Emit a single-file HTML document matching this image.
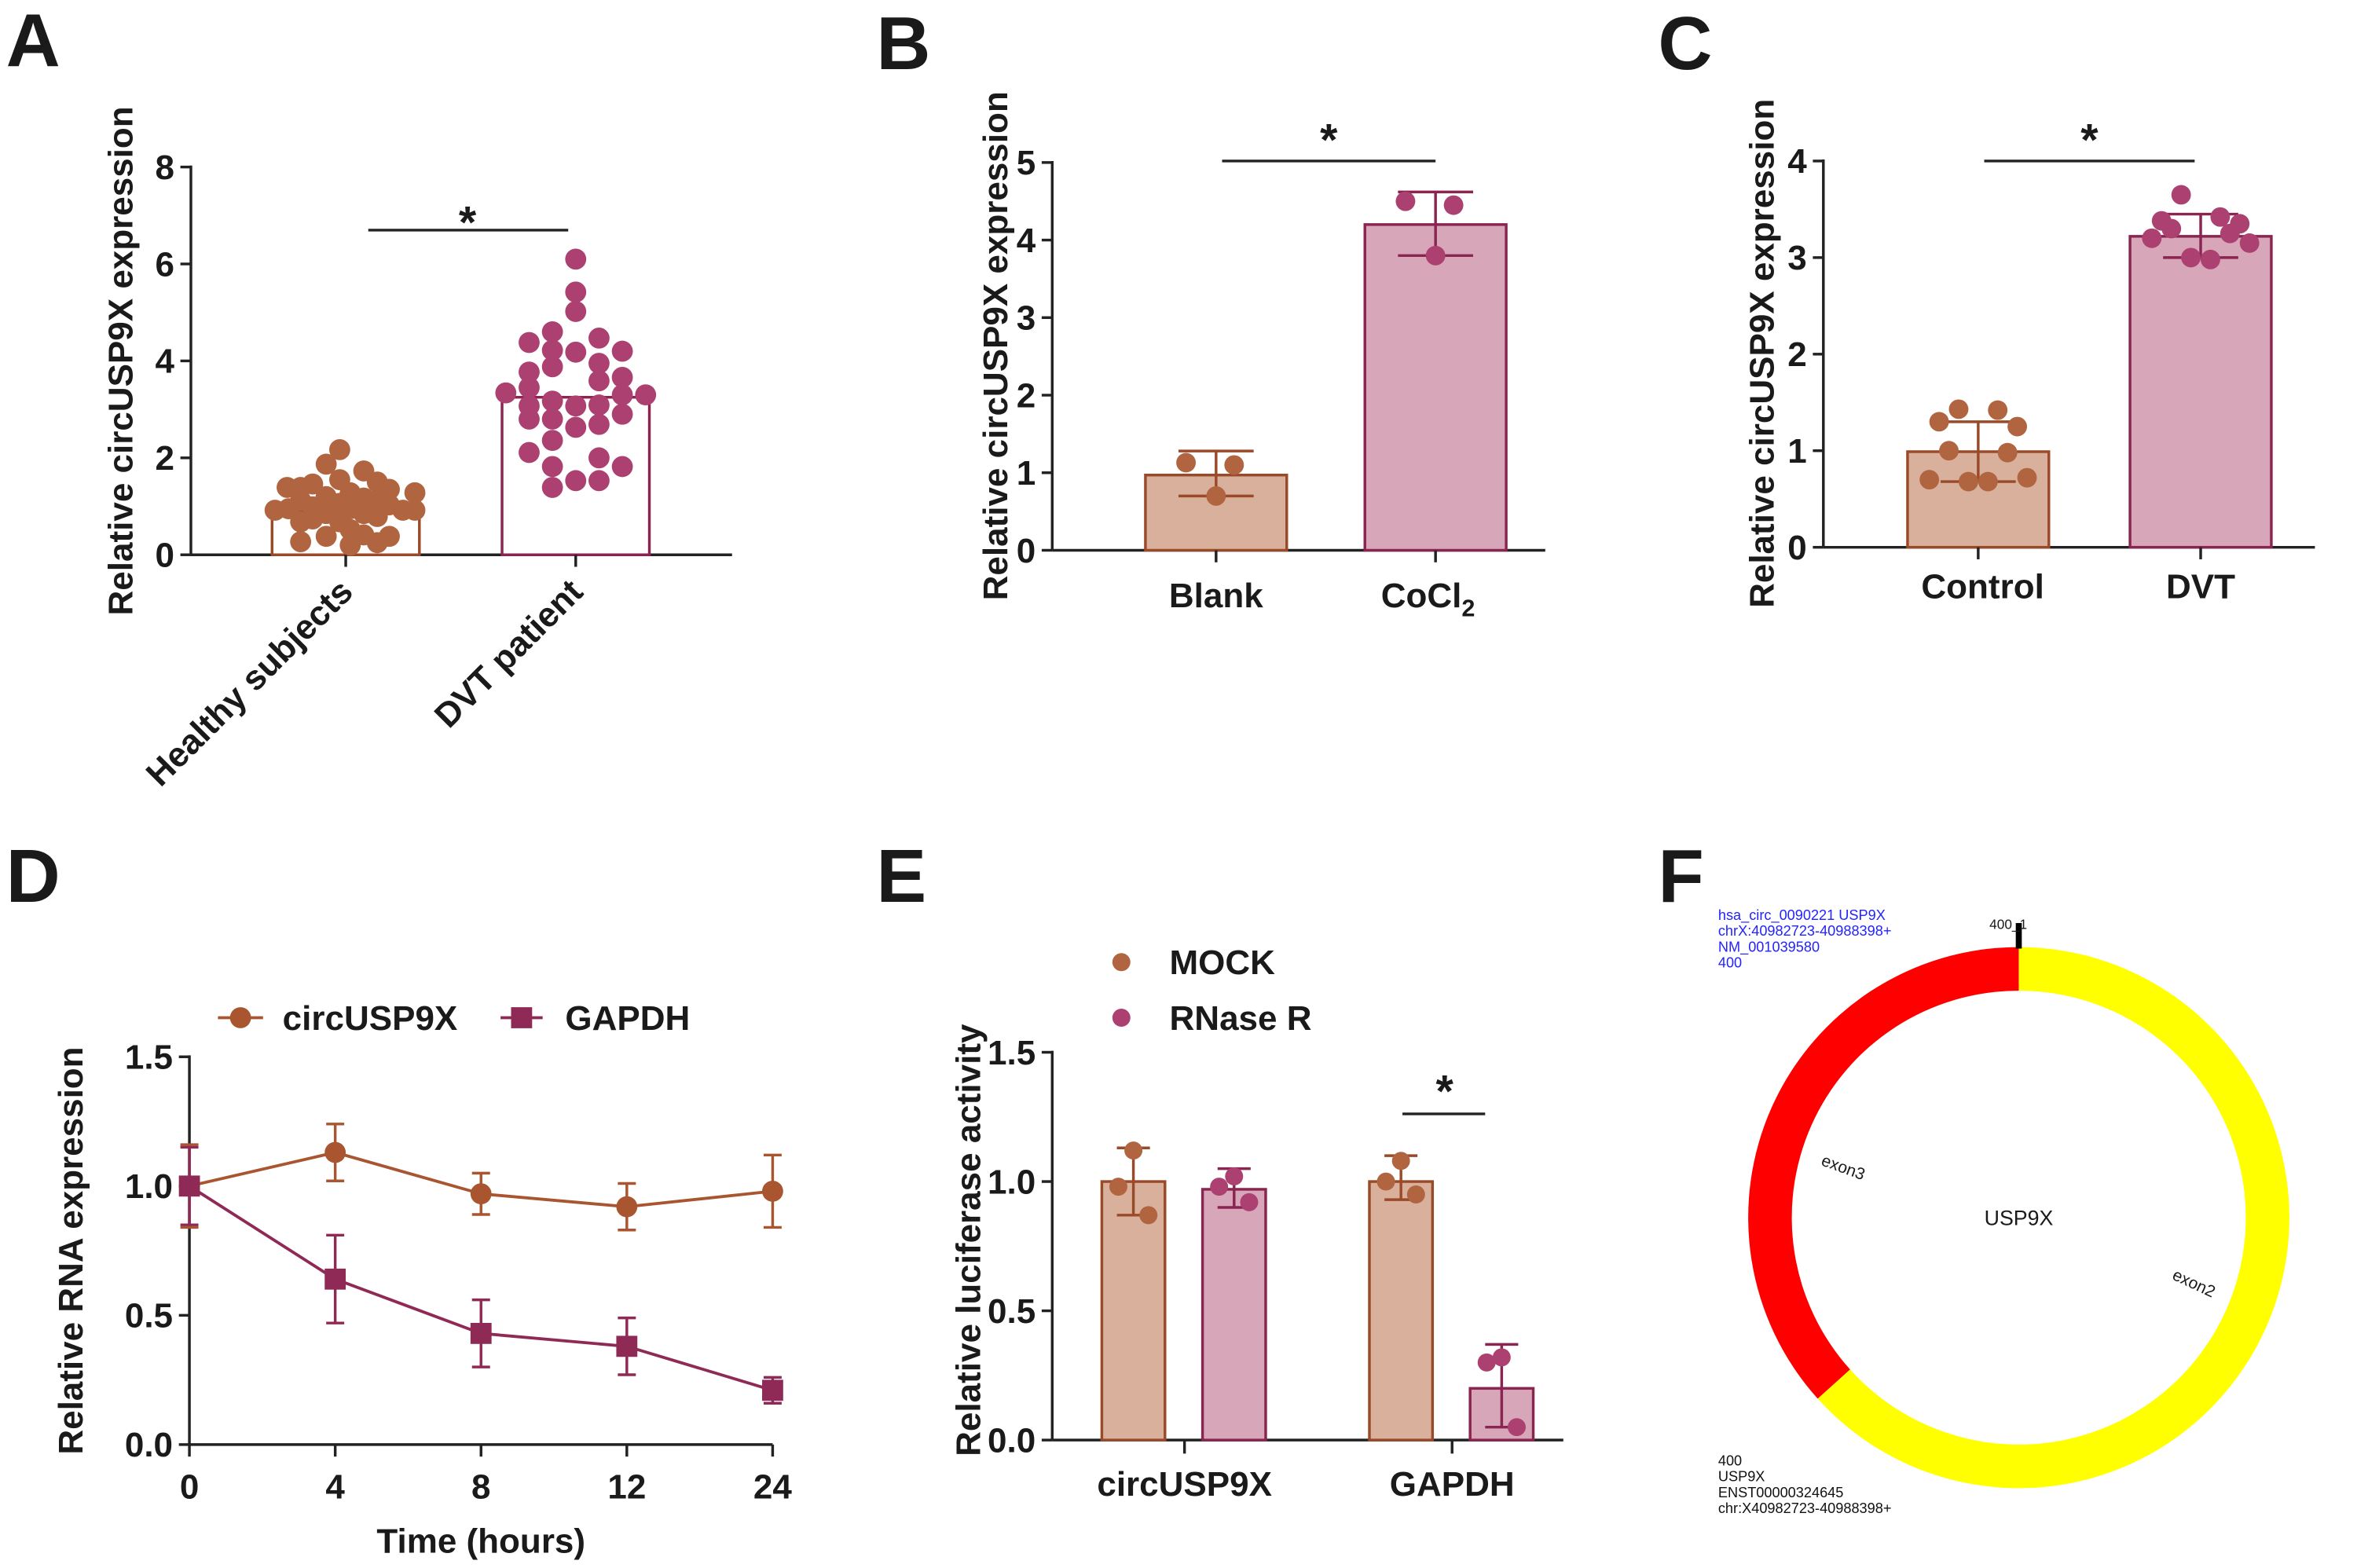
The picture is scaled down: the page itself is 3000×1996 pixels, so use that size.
<!DOCTYPE html>
<html><head><meta charset="utf-8"><style>
html,body{margin:0;padding:0;background:#fff;}
svg{display:block;}
text{font-family:"Liberation Sans",Arial,sans-serif;}
</style></head><body>
<svg id="fig" width="3000" height="1996" viewBox="0 0 1568 1043" xmlns="http://www.w3.org/2000/svg"></svg>
<script>
// ---------- DATA ----------
// Panel A
const aCategories = ['Healthy subjects', 'DVT patient'];
const aMeans = [0.9, 3.25];
const aHealthyVals = [2.17,1.87,1.73,1.55,1.5,1.46,1.39,1.39,1.35,1.28,1.28,1.2,1.17,1.14,1.12,1.06,1.03,0.92,0.95,0.99,0.95,0.92,0.92,0.85,0.85,0.79,0.68,0.68,0.74,0.52,0.38,0.38,0.27,0.25,0.2,0.41];
const aHealthyJit = [-4,-13,12,-4,21,-22,-39,-30,29,46,3,-13,12,21,-30,-4,29,-47,-38,-22,3,38,46,-13,12,21,-30,-4,-22,3,-13,29,-30,21,3,12];
const aDvtVals = [6.1,5.42,5.02,4.6,4.47,4.38,4.2,4.22,4.18,3.95,3.88,3.77,3.66,3.59,3.45,3.34,3.3,3.3,3.17,3.09,3.07,3.07,2.9,2.8,2.8,2.69,2.63,2.36,2.11,2.0,1.82,1.82,1.53,1.53,1.39];
const aDvtSlot = [0,0,0,-1,1,-2,2,-1,0,1,-1,-2,2,1,-2,-3,3,2,-1,1,0,-2,2,-2,-1,1,0,-1,-2,1,-1,2,0,1,-1];
const aTicks = [0,2,4,6,8];
// Panel B
const bCategories = ['Blank', 'CoCl2'];
const bMeans = [0.97, 4.2];
const bErrLo = [0.7, 3.8];
const bErrHi = [1.28, 4.62];
const bPoints = [[1.13,1.1,0.7],[4.5,4.45,3.8]];
const bTicks = [0,1,2,3,4,5];
// Panel C
const cCategories = ['Control', 'DVT'];
const cMeans = [0.99, 3.22];
const cErrLo = [0.68, 3.0];
const cErrHi = [1.3, 3.45];
const cPoints = [[1.43,1.42,1.3,1.25,1.0,0.98,0.7,0.72,0.68,0.68],[3.65,3.42,3.38,3.35,3.3,3.25,3.2,3.15,3.0,2.98]];
const cTicks = [0,1,2,3,4];
// Panel D
const dTimes = ['0','4','8','12','24'];
const dCirc = [1.0,1.13,0.97,0.92,0.98];
const dCircErr = [0.16,0.11,0.08,0.09,0.14];
const dGapdh = [1.0,0.64,0.43,0.38,0.21];
const dGapdhErr = [0.15,0.17,0.13,0.11,0.05];
const dTicks = [0,0.5,1.0,1.5];
// Panel E
const eGroups = ['circUSP9X','GAPDH'];
const eSeries = ['MOCK','RNase R'];
const eMock = [1.0, 1.0];
const eRnase = [0.97, 0.2];
const eMockErr = [[0.87,1.13],[0.93,1.1]];
const eRnaseErr = [[0.9,1.05],[0.05,0.37]];
const eMockPts = [[1.12,0.98,0.87],[1.08,1.0,0.95]];
const eRnasePts = [[1.02,0.98,0.92],[0.32,0.3,0.05]];
const eTicks = [0,0.5,1.0,1.5];
// Panel F
const fRedFrom = 228, fRedTo = 360; // degrees clockwise from top

// ---------- HELPERS ----------
const NS='http://www.w3.org/2000/svg';
const svg=document.getElementById('fig');
const BROWN='#9a4a28', BDOT='#b0643f', BFILL='#d9b09c';
const PLUM='#8a2450', PDOT='#ac4070', PFILL='#d8a6b9';
function mk(tag, name, attrs, parent){
  const el=document.createElementNS(NS,tag);
  for(const k in attrs) el.setAttribute(k, attrs[k]);
  
  
  (parent||svg).appendChild(el);
  return el;
}
function line(n,x1,y1,x2,y2,c,w){return mk('line',n,{x1,y1,x2,y2,stroke:c||'#222','stroke-width':w||1.6});}
function txt(n,x,y,s,size,opt){
  opt=opt||{};
  const t=mk('text',n,{x,y,'font-size':size,'font-weight':opt.w||'bold','text-anchor':opt.a||'middle',fill:opt.f||'#1a1a1a'});
  if(opt.rot!==undefined) t.setAttribute('transform','rotate('+opt.rot+' '+x+' '+y+')');
  t.textContent=s; return t;
}
function dot(n,x,y,r,c){return mk('circle',n,{cx:x,cy:y,r,fill:c});}
function yAxis(prefix,x,y0,yTop,ticks,max,fmt,size){
  const sc=v=>y0-(v/max)*(y0-yTop);
  line(prefix+'-y-axis',x,y0,x,yTop-1,'#222',1.8);
  ticks.forEach(v=>{line(prefix+'-y-tick',x-7,sc(v),x,sc(v),'#222',1.8);
    txt(prefix+'-y-tick-label',x-11,sc(v)+8,fmt(v),size||23,{a:'end'});});
  return sc;
}
function panelLabel(s,x,y){txt('panel-label-'+s.toLowerCase(),x,y,s,50,{a:'start',w:'bold'});}

// ---------- PANEL A ----------
panelLabel('A',4,44);
const aY=yAxis('panel-a',127,369,111,aTicks,8,v=>String(v));
line('panel-a-x-axis',127,369,487,369,'#222',1.8);
const aX=[230,383];
[BROWN,PLUM].forEach((c,i)=>{
  mk('rect','panel-a-bar-'+(i?'dvt':'healthy'),{x:aX[i]-49,y:aY(aMeans[i]),width:98,height:369-aY(aMeans[i]),fill:'#fff',stroke:c,'stroke-width':1.8});
  line('panel-a-x-tick',aX[i],369,aX[i],377,'#222',1.8);
  txt('panel-a-x-label',aX[i]+6,395,aCategories[i],23,{a:'end',rot:-45});
});
aHealthyVals.forEach((v,i)=>dot('panel-a-point-healthy',aX[0]+aHealthyJit[i],aY(v),7,BDOT));
aDvtVals.forEach((v,i)=>dot('panel-a-point-dvt',aX[1]+aDvtSlot[i]*15.5,aY(v),7,PDOT));
line('panel-a-sig-line',245,153,378,153,'#222',1.8);
txt('panel-a-sig-star',311,158,'*',30);
txt('panel-a-y-title',88,240,'Relative circUSP9X expression',23,{rot:-90});

// ---------- PANEL B / C (bar+points) ----------
function barPanel(p,cfg){
  const sc=yAxis(p,cfg.ax,cfg.y0,cfg.yTop,cfg.ticks,cfg.max,v=>String(v));
  line(p+'-x-axis',cfg.ax,cfg.y0,cfg.axEnd,cfg.y0,'#222',1.8);
  [[BROWN,BFILL,BDOT],[PLUM,PFILL,PDOT]].forEach((col,i)=>{
    const cx=cfg.xs[i];
    mk('rect',p+'-bar-'+i,{x:cx-47,y:sc(cfg.means[i]),width:94,height:cfg.y0-sc(cfg.means[i]),fill:col[1],stroke:col[0],'stroke-width':1.8});
    line(p+'-error-bar',cx,sc(cfg.lo[i]),cx,sc(cfg.hi[i]),col[0],1.8);
    line(p+'-error-cap',cx-25,sc(cfg.lo[i]),cx+25,sc(cfg.lo[i]),col[0],1.8);
    line(p+'-error-cap',cx-25,sc(cfg.hi[i]),cx+25,sc(cfg.hi[i]),col[0],1.8);
    const pts=cfg.pts[i], n=pts.length;
    pts.forEach((v,j)=>{
      const off = n===3 ? [-20,12,0][j] : [-10,10,-20,20,-15,15,-25,25,-5,5][j]*1.3;
      dot(p+'-point',cx+off,sc(v),6.5,col[2]);
    });
    line(p+'-x-tick',cx,cfg.y0,cx,cfg.y0+8,'#222',1.8);
  });
}
panelLabel('B',583,46);
barPanel('panel-b',{ax:700,y0:366,yTop:108,ticks:bTicks,max:5,axEnd:1028,xs:[809,955],means:bMeans,lo:bErrLo,hi:bErrHi,pts:bPoints});
txt('panel-b-x-label',809,404,bCategories[0],23);
const cocl=txt('panel-b-x-label',950,404,'CoCl',23);
const sub=document.createElementNS(NS,'tspan');sub.setAttribute('font-size','16');sub.setAttribute('dy','6');sub.textContent='2';cocl.appendChild(sub);
line('panel-b-sig-line',813,107,955,107,'#222',1.8);
txt('panel-b-sig-star',884,103,'*',30);
txt('panel-b-y-title',670,230,'Relative circUSP9X expression',23,{rot:-90});

panelLabel('C',1103,46);
barPanel('panel-c',{ax:1213,y0:364,yTop:107,ticks:cTicks,max:4,axEnd:1540,xs:[1316,1464],means:cMeans,lo:cErrLo,hi:cErrHi,pts:cPoints});
txt('panel-c-x-label',1319,398,cCategories[0],23);
txt('panel-c-x-label',1464,398,cCategories[1],23);
line('panel-c-sig-line',1320,107,1460,107,'#222',1.8);
txt('panel-c-sig-star',1390,103,'*',30);
txt('panel-c-y-title',1180,235,'Relative circUSP9X expression',23,{rot:-90});

// ---------- PANEL D ----------
panelLabel('D',4,600);
const dY=yAxis('panel-d',126,961,703,dTicks,1.5,v=>v.toFixed(1));
line('panel-d-x-axis',126,961,514,961,'#222',1.8);
const dX=i=>126+i*97;
dTimes.forEach((t,i)=>{line('panel-d-x-tick',dX(i),961,dX(i),969,'#222',1.8);txt('panel-d-x-label',dX(i),997,t,23);});
function series(name,vals,errs,col,sq){
  let d='';vals.forEach((v,i)=>{d+=(i?'L':'M')+dX(i)+' '+dY(v);});
  mk('path','panel-d-line-'+name,{d,fill:'none',stroke:col,'stroke-width':2});
  vals.forEach((v,i)=>{
    line('panel-d-error-'+name,dX(i),dY(v-errs[i]),dX(i),dY(v+errs[i]),col,1.8);
    line('panel-d-error-cap',dX(i)-6,dY(v-errs[i]),dX(i)+6,dY(v-errs[i]),col,1.8);
    line('panel-d-error-cap',dX(i)-6,dY(v+errs[i]),dX(i)+6,dY(v+errs[i]),col,1.8);
    if(sq) mk('rect','panel-d-marker-'+name,{x:dX(i)-7,y:dY(v)-7,width:14,height:14,fill:col});
    else dot('panel-d-marker-'+name,dX(i),dY(v),7,col);
  });
}
series('circusp9x',dCirc,dCircErr,'#a85530',false);
series('gapdh',dGapdh,dGapdhErr,'#8e2a55',true);
line('panel-d-legend-line',145,677,175,677,'#a85530',2);dot('panel-d-legend-marker',160,677,7,'#a85530');
txt('panel-d-legend-label',188,685,'circUSP9X',23,{a:'start'});
line('panel-d-legend-line',333,677,361,677,'#8e2a55',2);mk('rect','panel-d-legend-marker',{x:340,y:670,width:14,height:14,fill:'#8e2a55'});
txt('panel-d-legend-label',376,685,'GAPDH',23,{a:'start'});
txt('panel-d-x-title',320,1033,'Time (hours)',23);
txt('panel-d-y-title',55,832,'Relative RNA expression',23,{rot:-90});

// ---------- PANEL E ----------
panelLabel('E',583,600);
const eY=yAxis('panel-e',700,958,700,eTicks,1.5,v=>v.toFixed(1));
line('panel-e-x-axis',700,958,1040,958,'#222',1.8);
const eGX=[788,966];
eGroups.forEach((g,gi)=>{
  [[eMock,eMockErr,eMockPts,BROWN,BFILL,BDOT,-34],[eRnase,eRnaseErr,eRnasePts,PLUM,PFILL,PDOT,33]].forEach((s,si)=>{
    const cx=eGX[gi]+s[6], v=s[0][gi];
    mk('rect','panel-e-bar-'+g+'-'+si,{x:cx-21,y:eY(v),width:42,height:958-eY(v),fill:s[4],stroke:s[3],'stroke-width':1.8});
    line('panel-e-error-bar',cx,eY(s[1][gi][0]),cx,eY(s[1][gi][1]),s[3],1.8);
    line('panel-e-error-cap',cx-11,eY(s[1][gi][0]),cx+11,eY(s[1][gi][0]),s[3],1.8);
    line('panel-e-error-cap',cx-11,eY(s[1][gi][1]),cx+11,eY(s[1][gi][1]),s[3],1.8);
    s[2][gi].forEach((pv,j)=>dot('panel-e-point',cx+[0,-10,10][j]*(j?1:0)+(j===0?-0:0)+(si?[-1,0,-1][j]*0:0),eY(pv),6,s[5]));
  });
  line('panel-e-x-tick',eGX[gi],958,eGX[gi],967,'#222',1.8);
  txt('panel-e-x-label',eGX[gi],995,g,23);
});
line('panel-e-sig-line',933,741,988,741,'#222',1.8);
txt('panel-e-sig-star',961,736,'*',30);
dot('panel-e-legend-marker-mock',746,640,6,BDOT);txt('panel-e-legend-label',778,648,eSeries[0],23,{a:'start'});
dot('panel-e-legend-marker-rnase',746,677,6,PDOT);txt('panel-e-legend-label',778,685,eSeries[1],23,{a:'start'});
txt('panel-e-y-title',652,825,'Relative luciferase activity',23,{rot:-90});

// ---------- PANEL F ----------
panelLabel('F',1103,600);
const cx=1343, cy=810, rO=180, rI=151;
function arcPath(a0,a1){
  const p=(r,a)=>{const t=(a-90)*Math.PI/180;return [cx+r*Math.cos(t),cy+r*Math.sin(t)];};
  const lg=(a1-a0)>180?1:0;
  const [x1,y1]=p(rO,a0),[x2,y2]=p(rO,a1),[x3,y3]=p(rI,a1),[x4,y4]=p(rI,a0);
  return `M${x1} ${y1}A${rO} ${rO} 0 ${lg} 1 ${x2} ${y2}L${x3} ${y3}A${rI} ${rI} 0 ${lg} 0 ${x4} ${y4}Z`;
}
mk('path','panel-f-exon2-arc',{d:arcPath(0,fRedFrom),fill:'#ffff00'});
mk('path','panel-f-exon3-arc',{d:arcPath(fRedFrom,fRedTo-0.01),fill:'#ff0000'});
mk('rect','panel-f-junction-tick',{x:1341,y:614,width:4,height:17,fill:'#000'});
txt('panel-f-junction-label',1336,618,'400_1',9,{w:'normal'});
['hsa_circ_0090221 USP9X','chrX:40982723-40988398+','NM_001039580','400'].forEach((s,i)=>txt('panel-f-info-line',1143,612+i*10.5,s,9.5,{a:'start',w:'normal',f:'#2323ff'}));
['400','USP9X','ENST00000324645','chr:X40982723-40988398+'].forEach((s,i)=>txt('panel-f-bottom-line',1143,975+i*10.5,s,9.5,{a:'start',w:'normal',f:'#111'}));
txt('panel-f-center-label',1343,815,'USP9X',14,{w:'normal'});
txt('panel-f-exon3-label',1225,780,'exon3',11,{w:'normal',rot:20});
txt('panel-f-exon2-label',1458,857,'exon2',11,{w:'normal',rot:25});
</script>
</body></html>
